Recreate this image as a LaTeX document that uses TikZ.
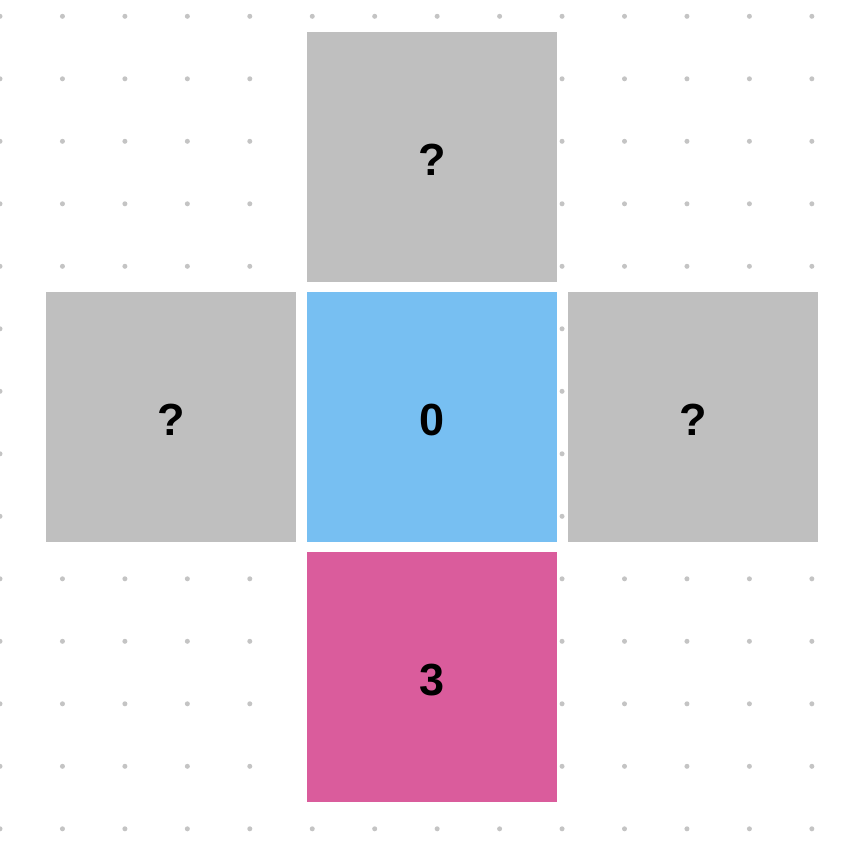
\documentclass[tikz,border=0pt]{standalone}
\usepackage{fontspec}
\setmainfont{Liberation Sans}
\definecolor{dotgray}{HTML}{C4C4C4}
\definecolor{boxgray}{HTML}{BFBFBF}
\definecolor{boxblue}{HTML}{77BFF2}
\definecolor{boxpink}{HTML}{DA5C9C}
\tikzset{
  cell/.style={minimum width=250pt, minimum height=250pt, inner sep=0pt, draw=none,
    text height=37pt, text depth=0pt, font=\fontsize{45}{48}\selectfont\bfseries, text=black},
  griddot/.style={fill=dotgray, draw=none}
}
\begin{document}
\begin{tikzpicture}[x=1pt,y=-1pt]
\useasboundingbox (0,0) rectangle (866,842);
\fill[white] (0,0) rectangle (866,842);
\foreach \i in {0,...,13}{
  \foreach \j in {0,...,13}{
    \fill[griddot] ({62.45*\i},{16.3+62.5*\j}) circle (2.5);
  }
}
\node[cell, fill=boxgray] (top) at (432,157) {?};
\node[cell, fill=boxgray] (left) at (171,416.5) {?};
\node[cell, fill=boxblue] (center) at (432,416.5) {0};
\node[cell, fill=boxgray] (right) at (693,416.5) {?};
\node[cell, fill=boxpink] (bottom) at (432,677.3) {3};
\end{tikzpicture}
\end{document}
